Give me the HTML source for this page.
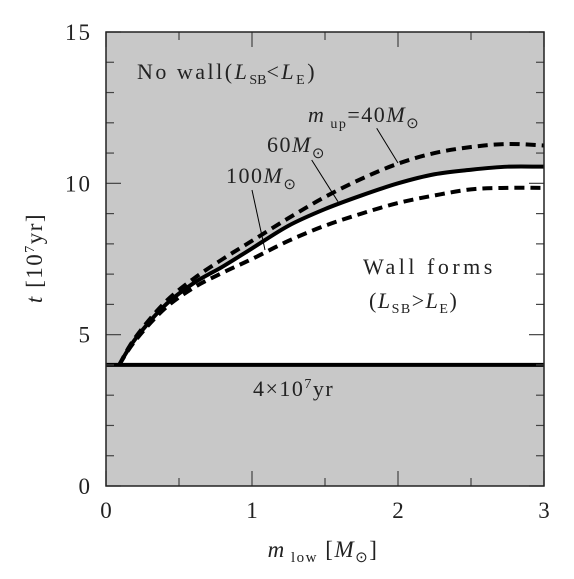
<!DOCTYPE html>
<html><head><meta charset="utf-8"><style>
body{margin:0;background:#fff}
text{font-family:"Liberation Serif",serif;fill:#222}
</style></head><body>
<svg id="chart" width="574" height="574" viewBox="0 0 574 574">
<g id="plot"></g>
</svg>
<script>
const xs=[0.09,0.2,0.4,0.6,0.8,1.0,1.25,1.5,1.75,2.0,2.25,2.5,2.75,3.0];
const mup40=[4.0,4.9,6.05,6.85,7.5,8.1,8.85,9.55,10.15,10.65,11.0,11.2,11.3,11.25];
const mup60=[4.0,4.85,5.95,6.7,7.25,7.85,8.6,9.15,9.6,10.0,10.3,10.45,10.55,10.55];
const mup100=[4.0,4.8,5.85,6.55,7.05,7.5,8.1,8.6,9.0,9.35,9.6,9.8,9.85,9.85];
const wallT=4;
const xTicks=[0,1,2,3];
const yTicks=[0,5,10,15];
const L=106,R=544,T=32,B=486;
const X=v=>L+(v-0)/3*(R-L);
const Y=v=>B-(v/15)*(B-T);
const NS="http://www.w3.org/2000/svg";
const g=document.getElementById('plot');
function mk(tag,attrs,parent){const e=document.createElementNS(NS,tag);for(const k in attrs)e.setAttribute(k,attrs[k]);(parent||g).appendChild(e);return e;}
function smooth(arr){const P=xs.map((x,i)=>[X(x),Y(arr[i])]);let d='M'+P[0][0]+','+P[0][1];
 for(let i=0;i<P.length-1;i++){const p0=P[Math.max(0,i-1)],p1=P[i],p2=P[i+1],p3=P[Math.min(P.length-1,i+2)];
  const c1=[p1[0]+(p2[0]-p0[0])/6,p1[1]+(p2[1]-p0[1])/6],c2=[p2[0]-(p3[0]-p1[0])/6,p2[1]-(p3[1]-p1[1])/6];
  d+=' C'+c1[0]+','+c1[1]+' '+c2[0]+','+c2[1]+' '+p2[0]+','+p2[1];}
 return d;}
const bg=mk('rect',{x:L,y:T,width:R-L,height:B-T,fill:'#c8c8c8'});


const wd=smooth(mup60)+' L'+X(3)+','+Y(wallT)+' L'+X(xs[0])+','+Y(wallT)+' Z';
const wr=mk('path',{d:wd,fill:'#fff'});


function line(arr,dash,name){
 const e=mk('path',{d:smooth(arr),fill:'none',stroke:'#000','stroke-width':4,'stroke-dasharray':dash});
 
 }
line(mup40,'10,6','curve-mup-40');
line(mup100,'10,6','curve-mup-100');
line(mup60,'none','curve-mup-60');
const hl=mk('line',{x1:L,x2:R,y1:Y(wallT),y2:Y(wallT),stroke:'#000','stroke-width':4});


for(let v=0;v<=3.001;v+=0.5){const maj=Math.abs(v-Math.round(v))<1e-6;const len=maj?15:8;
 mk('line',{x1:X(v),x2:X(v),y1:B,y2:B-len,stroke:'#444','stroke-width':1.2});
 mk('line',{x1:X(v),x2:X(v),y1:T,y2:T+len,stroke:'#444','stroke-width':1.2});}
for(let v=0;v<=15;v++){const maj=v%5===0;const len=maj?15:8;
 mk('line',{x1:L,x2:L+len,y1:Y(v),y2:Y(v),stroke:'#444','stroke-width':1.2});
 mk('line',{x1:R,x2:R-len,y1:Y(v),y2:Y(v),stroke:'#444','stroke-width':1.2});}
const fr=mk('rect',{x:L,y:T,width:R-L,height:B-T,fill:'none',stroke:'#222','stroke-width':1.5});


xTicks.forEach(v=>{const t=mk('text',{x:X(v),y:518,'text-anchor':'middle','font-size':23});t.textContent=v;
 
 });
yTicks.forEach(v=>{const t=mk('text',{x:92,y:Y(v)+8,'text-anchor':'end','font-size':23,'letter-spacing':2});t.textContent=v;
 
 });
[[376.7,128.3,398,163],[311.7,160,338,201.7],[252,190,265,250]].forEach((a,i)=>{
 const e=mk('line',{x1:a[0],y1:a[1],x2:a[2],y2:a[3],stroke:'#000','stroke-width':1});
 
 });
</script>
<svg width="574" height="574" style="position:absolute;left:0;top:0">
<text x="137" y="79" font-size="22" letter-spacing="2.5">No wall(<tspan font-style="italic">L</tspan><tspan font-size="14" dy="5" letter-spacing="0">SB</tspan><tspan dy="-5">&lt;</tspan><tspan font-style="italic">L</tspan><tspan font-size="14" dy="5">E</tspan><tspan dy="-5">)</tspan></text>
<text x="308" y="122" font-size="22" letter-spacing="1.5"><tspan font-style="italic">m</tspan><tspan font-size="14" dy="6"> up</tspan><tspan dy="-6">=40</tspan><tspan font-style="italic">M</tspan><tspan font-size="15" dy="6">⊙</tspan></text>
<text x="267" y="152" font-size="22" letter-spacing="1.5">60<tspan font-style="italic">M</tspan><tspan font-size="15" dy="6">⊙</tspan></text>
<text x="226" y="183" font-size="22" letter-spacing="1.5">100<tspan font-style="italic">M</tspan><tspan font-size="15" dy="6">⊙</tspan></text>
<text x="363" y="274" font-size="22" letter-spacing="3.5">Wall forms</text>
<text x="369" y="308" font-size="22" letter-spacing="1.5">(<tspan font-style="italic">L</tspan><tspan font-size="14" dy="5">SB</tspan><tspan dy="-5">&gt;</tspan><tspan font-style="italic">L</tspan><tspan font-size="14" dy="5">E</tspan><tspan dy="-5">)</tspan></text>
<text x="253" y="396" font-size="22" letter-spacing="1.5">4×10<tspan font-size="14" dy="-8">7</tspan><tspan dy="8">yr</tspan></text>
<text x="323" y="557" font-size="23" letter-spacing="1.5" text-anchor="middle"><tspan font-style="italic">m</tspan><tspan font-size="15" dy="5"> low</tspan><tspan dy="-5"> [</tspan><tspan font-style="italic">M</tspan><tspan font-size="15" dy="5">⊙</tspan><tspan dy="-5">]</tspan></text>
<text transform="translate(42,258) rotate(-90)" font-size="23" letter-spacing="1.5" text-anchor="middle"><tspan font-style="italic">t</tspan>  [10<tspan font-size="14" dy="-8">7</tspan><tspan dy="8">yr]</tspan></text>
</svg>
</body></html>
